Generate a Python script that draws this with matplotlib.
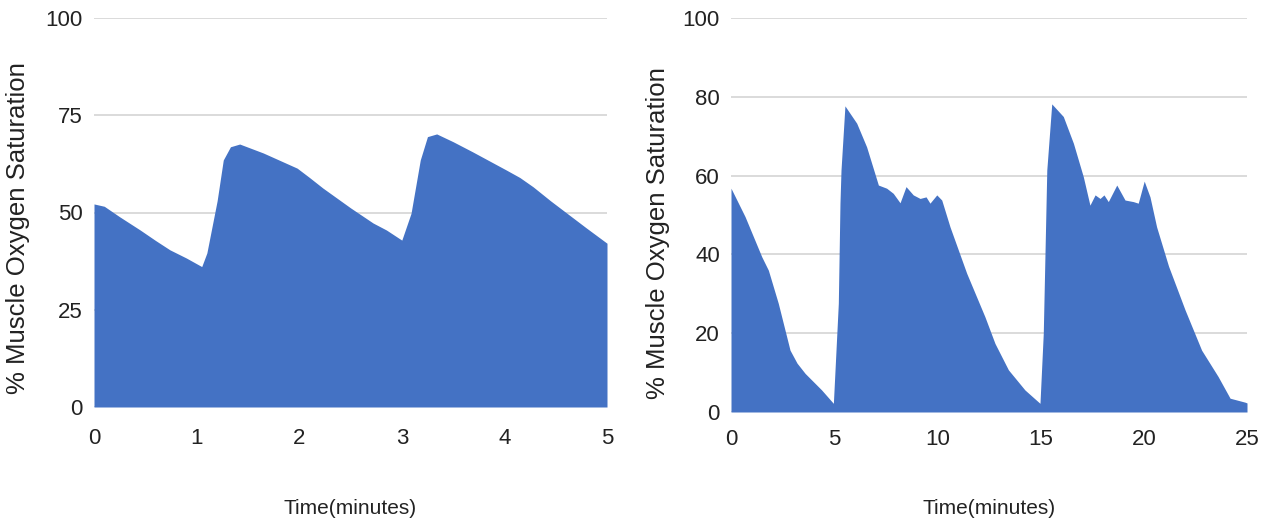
import matplotlib.pyplot as plt

# Left chart: 5 minute test
left_time = [0, 0.1, 0.25, 0.45, 0.6, 0.74, 0.9, 1.05, 1.1, 1.2, 1.26, 1.33, 1.42, 1.65,
             1.98, 2.1, 2.23, 2.5, 2.72, 2.85, 3.0, 3.09, 3.18, 3.25, 3.34, 3.5, 3.69,
             4.02, 4.15, 4.28, 4.45, 4.61, 4.8, 5.0]
left_sat = [52.2, 51.6, 48.9, 45.5, 42.8, 40.4, 38.3, 36.1, 39.6, 53, 63.5, 66.9, 67.6,
            65.3, 61.4, 59.0, 56.3, 51.2, 47.3, 45.5, 42.9, 49.8, 63.5, 69.5, 70.2, 68.2,
            65.6, 60.9, 59.0, 56.6, 53.0, 49.8, 46.0, 42.1]

# Right chart: 25 minute test
right_time = [0, 0.68, 1.49, 1.81, 2.29, 2.86, 3.2, 3.59, 4.39, 4.96, 5.2, 5.28, 5.33, 5.52,
              6.09, 6.57, 7.14, 7.54, 7.86, 8.19, 8.48, 8.83, 9.16, 9.45, 9.64, 9.97,
              10.21, 10.61, 11.42, 12.3, 12.79, 13.44, 14.24, 14.97, 15.13, 15.3, 15.54,
              16.1, 16.59, 17.07, 17.39, 17.64, 17.88, 18.07, 18.28, 18.69, 19.09, 19.49,
              19.73, 20.02, 20.3, 20.62, 21.2, 22.0, 22.8, 23.6, 24.18, 24.9, 25.0]
right_sat = [56.8, 49.6, 39.4, 36, 27.6, 15.7, 12.4, 9.8, 5.6, 2.2, 27.6, 53, 61.4, 77.7,
             73.3, 67.3, 57.6, 56.8, 55.5, 53.1, 57.2, 55.1, 54.2, 54.6, 53, 55.1,
             53.8, 47, 35.2, 24.2, 17.4, 10.7, 5.6, 2.2, 20, 61.4, 78.2,
             75, 68.2, 59.7, 52.5, 55.1, 54.2, 55.1, 53.4, 57.6, 53.8, 53.4,
             53, 58.6, 54.6, 47, 37, 25.9, 15.7, 9, 3.5, 2.5, 2.3]

left_yticks = [0, 25, 50, 75, 100]
right_yticks = [0, 20, 40, 60, 80, 100]

fill_color = '#4472c4'
tick_font = ['Liberation Sans Narrow', 'Liberation Sans', 'DejaVu Sans']
label_font = ['Liberation Sans', 'DejaVu Sans']

fig = plt.figure(figsize=(12.62, 5.25), dpi=100)
W, H = 1262, 525

def setup(ax, xmax, xticks, yticks, xpad):
    ax.set_xlim(0, xmax)
    ax.set_ylim(0, 100)
    ax.set_xticks(xticks)
    ax.set_yticks(yticks)
    ax.grid(axis='y', color='#d4d4d4', linewidth=1.2)
    ax.set_axisbelow(True)
    for s in ax.spines.values():
        s.set_visible(False)
    ax.tick_params(length=0, labelsize=16, colors='#222222')
    ax.tick_params(axis='x', pad=xpad)
    ax.tick_params(axis='y', pad=8)
    for lab in ax.get_xticklabels() + ax.get_yticklabels():
        lab.set_family(tick_font)

# left panel
ax1 = fig.add_axes([94 / W, 1 - 407 / H, (607 - 94) / W, (407 - 18) / H])
ax1.fill_between(left_time, left_sat, 0, color=fill_color, linewidth=0, zorder=2)
setup(ax1, 5, [0, 1, 2, 3, 4, 5], left_yticks, 15)

# right panel
ax2 = fig.add_axes([731 / W, 1 - 412 / H, (1247 - 731) / W, (412 - 18) / H])
ax2.fill_between(right_time, right_sat, 0, color=fill_color, linewidth=0, zorder=2)
setup(ax2, 25, [0, 5, 10, 15, 20, 25], right_yticks, 12)

# axis titles
fig.text(18 / W, 1 - 228 / H, '% Muscle Oxygen Saturation', rotation=90,
         ha='center', va='center', fontsize=18.5, family=label_font, color='#222222')
fig.text(658 / W, 1 - 233 / H, '% Muscle Oxygen Saturation', rotation=90,
         ha='center', va='center', fontsize=18.5, family=label_font, color='#222222')
fig.text(350 / W, 1 - 508 / H, 'Time(minutes)', ha='center', va='center',
         fontsize=15, family=tick_font, color='#222222')
fig.text(989 / W, 1 - 508 / H, 'Time(minutes)', ha='center', va='center',
         fontsize=15, family=tick_font, color='#222222')

fig.savefig('out.png', dpi=100)
